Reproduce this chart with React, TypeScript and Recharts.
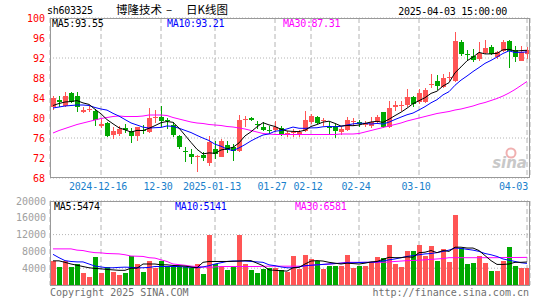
import React from 'react';
import { ComposedChart, Bar, Line, XAxis, YAxis, CartesianGrid } from 'recharts';

const dates = [
  '2024-12-04','2024-12-05','2024-12-06','2024-12-09','2024-12-10','2024-12-11','2024-12-12','2024-12-13','2024-12-16','2024-12-17',
  '2024-12-18','2024-12-19','2024-12-20','2024-12-23','2024-12-24','2024-12-25','2024-12-26','2024-12-27','2024-12-30','2024-12-31',
  '2025-01-02','2025-01-03','2025-01-06','2025-01-07','2025-01-08','2025-01-09','2025-01-10','2025-01-13','2025-01-14','2025-01-15',
  '2025-01-16','2025-01-17','2025-01-20','2025-01-21','2025-01-22','2025-01-23','2025-01-24','2025-01-27','2025-02-05','2025-02-06',
  '2025-02-07','2025-02-10','2025-02-11','2025-02-12','2025-02-13','2025-02-14','2025-02-17','2025-02-18','2025-02-19','2025-02-20',
  '2025-02-21','2025-02-24','2025-02-25','2025-02-26','2025-02-27','2025-02-28','2025-03-03','2025-03-04','2025-03-05','2025-03-06',
  '2025-03-07','2025-03-10','2025-03-11','2025-03-12','2025-03-13','2025-03-14','2025-03-17','2025-03-18','2025-03-19','2025-03-20',
  '2025-03-21','2025-03-24','2025-03-25','2025-03-26','2025-03-27','2025-03-28','2025-03-31','2025-04-01','2025-04-02','2025-04-03',
];

const opens = [
  82.3, 83.7, 82.5, 85.0, 84.5, 81.3, 81.6, 81.4, 78.5, 79.0,
  76.6, 76.9, 78.0, 77.5, 76.5, 77.7, 77.2, 80.0, 80.3, 79.7,
  78.6, 76.5, 73.5, 72.8, 72.2, 72.7, 71.0, 73.8, 72.3, 74.7,
  74.3, 73.5, 79.6, 80.0, 78.9, 78.3, 77.6, 77.6, 78.0, 76.7,
  77.0, 76.9, 77.5, 79.2, 80.3, 79.4, 78.3, 78.5, 77.2, 77.6,
  79.2, 79.2, 78.6, 78.4, 79.2, 81.2, 78.2, 82.3, 82.4, 82.7,
  84.3, 83.2, 83.2, 86.6, 87.4, 86.2, 88.1, 87.5, 95.2, 92.9,
  92.5, 91.8, 93.0, 94.3, 92.2, 93.5, 95.5, 93.6, 91.5, 92.8,
];
const highs = [
  84.5, 84.5, 85.3, 85.2, 85.3, 82.2, 82.5, 81.8, 79.8, 79.2,
  78.2, 78.4, 78.9, 78.0, 78.3, 78.6, 82.0, 81.7, 82.5, 80.0,
  79.2, 76.7, 74.3, 73.8, 72.7, 73.3, 76.5, 75.5, 75.8, 75.5,
  74.8, 80.7, 80.5, 80.2, 79.5, 79.2, 78.5, 79.4, 78.5, 77.4,
  77.8, 77.6, 81.5, 80.8, 80.4, 80.0, 79.2, 78.9, 78.2, 80.3,
  80.0, 79.6, 79.4, 80.2, 80.6, 81.3, 83.5, 83.4, 83.4, 85.8,
  84.5, 85.8, 86.0, 88.8, 88.7, 88.8, 89.2, 97.2, 95.6, 93.6,
  93.8, 95.2, 95.6, 94.6, 93.5, 95.6, 95.7, 94.5, 94.5, 94.3,
];
const lows = [
  81.6, 82.2, 82.3, 83.0, 81.2, 81.0, 81.2, 78.4, 78.0, 76.3,
  75.8, 76.5, 77.0, 75.0, 75.5, 76.8, 77.0, 79.0, 78.2, 77.8,
  76.3, 73.9, 71.2, 70.8, 69.2, 71.4, 70.5, 71.8, 72.2, 73.0,
  71.5, 73.3, 78.2, 79.4, 77.8, 77.5, 76.8, 77.3, 76.5, 76.2,
  76.2, 76.2, 77.2, 78.8, 78.8, 78.5, 76.8, 76.0, 76.7, 77.5,
  78.5, 78.2, 78.2, 78.0, 78.8, 78.0, 78.0, 81.5, 81.5, 82.3,
  82.3, 82.8, 83.0, 86.0, 85.7, 86.0, 87.5, 87.3, 92.5, 91.6,
  91.2, 91.5, 92.8, 92.6, 91.8, 93.3, 90.0, 91.2, 91.4, 91.8,
];
const closes = [
  84.0, 83.3, 84.5, 83.3, 82.3, 81.7, 81.8, 79.6, 78.8, 76.5,
  77.5, 77.8, 77.6, 76.5, 78.2, 77.4, 80.0, 80.3, 79.4, 79.4,
  76.6, 74.2, 73.2, 72.2, 72.5, 72.0, 75.2, 72.8, 75.5, 73.7,
  73.5, 79.6, 79.8, 79.6, 78.7, 77.6, 77.4, 78.2, 76.8, 77.0,
  77.2, 77.2, 79.6, 80.5, 79.0, 79.6, 78.1, 77.4, 77.8, 79.6,
  79.4, 78.8, 79.0, 79.2, 80.3, 78.3, 82.0, 82.6, 82.6, 84.3,
  82.8, 85.0, 85.6, 86.9, 86.5, 88.0, 88.3, 95.5, 92.8, 92.6,
  91.7, 93.0, 94.0, 92.8, 93.2, 95.2, 93.5, 92.2, 93.3, 93.6,
];
const ma5 = [
  82.5, 82.9, 83.2, 83.3, 83.48, 83.02, 82.72, 81.74, 80.84, 79.68,
  78.84, 78.04, 77.64, 77.18, 77.52, 77.5, 77.94, 78.48, 79.06, 79.3,
  79.14, 77.98, 76.56, 75.12, 73.74, 72.82, 73.02, 72.94, 73.6, 73.84,
  74.14, 75.02, 76.42, 77.24, 78.24, 79.06, 78.62, 78.3, 77.74, 77.4,
  77.32, 77.28, 77.56, 78.3, 78.7, 79.18, 79.36, 78.92, 78.38, 78.5,
  78.46, 78.6, 78.92, 79.2, 79.34, 79.12, 79.76, 80.48, 81.16, 81.96,
  82.86, 83.46, 84.06, 84.92, 85.36, 86.4, 87.06, 89.04, 90.22, 91.44,
  92.18, 93.12, 92.82, 92.82, 92.94, 93.64, 93.74, 93.38, 93.48, 93.55,
];
const ma10 = [
  82.0, 82.2, 82.4, 82.5, 82.6, 82.6, 82.5, 82.1, 81.8, 81.58,
  80.93, 80.38, 79.69, 79.01, 78.6, 78.17, 77.99, 78.06, 78.12, 78.41,
  78.32, 77.96, 77.52, 77.09, 76.52, 75.98, 75.5, 74.75, 74.36, 73.79,
  73.48, 74.02, 74.68, 75.42, 76.04, 76.6, 76.82, 77.36, 77.49, 77.82,
  78.19, 77.95, 77.93, 78.02, 78.05, 78.25, 78.32, 78.24, 78.34, 78.6,
  78.82, 78.98, 78.92, 78.79, 78.92, 78.79, 79.18, 79.7, 80.18, 80.65,
  80.99, 81.61, 82.27, 83.04, 83.66, 84.63, 85.26, 86.55, 87.57, 88.4,
  89.29, 90.09, 90.93, 91.52, 92.19, 92.91, 93.43, 93.1, 93.15, 93.21,
];
const ma30 = [
  77.0, 77.5, 77.9, 78.3, 78.7, 79.0, 79.3, 79.6, 79.9, 80.1,
  80.3, 80.4, 80.3, 80.3, 80.3, 80.4, 80.6, 80.6, 80.6, 80.5,
  80.1, 79.8, 79.5, 79.2, 79.0, 78.9, 78.7, 78.6, 78.5, 78.3,
  78.2, 78.0, 77.8, 77.5, 77.2, 76.9, 76.8, 76.7, 76.7, 76.7,
  76.7, 76.7, 76.7, 76.7, 76.7, 76.7, 76.7, 76.7, 76.8, 76.8,
  76.8, 76.9, 77.2, 77.5, 77.8, 78.1, 78.4, 78.7, 79.0, 79.4,
  79.7, 80.0, 80.3, 80.6, 80.9, 81.1, 81.3, 81.6, 81.8, 82.1,
  82.4, 82.8, 83.1, 83.5, 83.9, 84.4, 85.0, 85.7, 86.5, 87.31,
];
const volumes = [
  5830, 4400, 5680, 4400, 5000, 2740, 2020, 6550, 2740, 4400,
  3210, 2500, 2740, 6790, 5100, 3210, 5830, 4000, 5600, 4400,
  4400, 4400, 4400, 4000, 4900, 2600, 11790, 4900, 4400, 3500,
  4400, 11800, 4900, 3500, 2740, 3700, 4000, 4000, 3500, 3210,
  7000, 3900, 7260, 6300, 5800, 3900, 4600, 4600, 4600, 7260,
  4100, 4600, 4600, 5360, 6550, 6500, 9640, 4900, 4400, 8210,
  8210, 9640, 7020, 9400, 5600, 8690, 5360, 16550, 8850, 4900,
  5190, 7020, 5190, 3290, 3450, 5830, 9160, 4640, 3930, 3930,
];
const vma5 = [
  5750, 5750, 5400, 5000, 4700, 4400, 4100, 3950, 3850, 3700,
  3600, 3500, 3500, 4000, 4000, 5000, 5000, 5000, 4800, 4800,
  4650, 4600, 4500, 4300, 4100, 5400, 5600, 5600, 5600, 5600,
  5650, 5700, 5800, 5800, 5200, 4600, 3600, 3500, 3400, 3300,
  4100, 4200, 5000, 5700, 5800, 5700, 5400, 5200, 5000, 5200,
  5100, 5000, 5200, 5500, 5600, 6100, 6600, 6500, 6500, 6700,
  6600, 7700, 7800, 8200, 7700, 8200, 8000, 9000, 9000, 8800,
  8800, 8200, 7000, 5800, 4900, 4900, 5000, 5400, 5400, 5474,
];
const vma10 = [
  7300, 6500, 5800, 5600, 5500, 5500, 5000, 4500, 4300, 4100,
  4100, 4200, 4250, 4200, 4100, 4100, 4200, 4400, 4400, 4400,
  4400, 4400, 4300, 4200, 4100, 4300, 4600, 5000, 5300, 5600,
  5700, 5700, 5700, 5600, 5500, 5400, 4800, 4600, 4300, 4100,
  4100, 4300, 4600, 4700, 4800, 4900, 5000, 5100, 5200, 5300,
  5300, 5350, 5400, 5400, 5500, 5700, 6000, 6200, 6500, 6800,
  7000, 7200, 7400, 7500, 7700, 8000, 8300, 8800, 8700, 8500,
  8300, 8000, 7500, 7200, 6800, 6200, 5900, 5600, 5300, 5141,
];
const vma30 = [
  8600, 8600, 8600, 8600, 8300, 8200, 7900, 7700, 7650, 7500,
  7450, 7400, 7200, 6900, 6850, 6800, 6500, 6400, 6000, 5600,
  5000, 4850, 4700, 4500, 4400, 4300, 4200, 4300, 4400, 4400,
  4400, 4400, 4400, 4400, 4400, 4450, 4480, 4480, 4480, 4480,
  4480, 4480, 4480, 4700, 4800, 4900, 5000, 5100, 5200, 5400,
  5400, 5400, 5400, 5400, 5400, 5400, 5500, 5600, 5700, 5800,
  5850, 5900, 6000, 6100, 6200, 6300, 6500, 6500, 6500, 6500,
  6500, 6500, 6500, 6500, 6500, 6550, 6550, 6550, 6560, 6581,
];

const tickDates = ['2024-12-16','2024-12-30','2025-01-13','2025-01-27','2025-02-12','2025-02-24','2025-03-10','2025-04-03'];
const tickLabels = ['2024-12-16','12-30','2025-01-13','01-27','02-12','02-24','03-10','04-03'];
const priceTicks = [68, 72, 76, 80, 84, 88, 92, 96, 100];
const volTicks = [0, 4000, 8000, 12000, 16000, 20000];

const RED = '#ff5555';
const GREEN = '#00a800';
const MONO = '"DejaVu Sans Mono", "Liberation Mono", monospace';
const CJK = '"Noto Sans CJK SC", sans-serif';

const data = dates.map((d, i) => ({
  d,
  o: opens[i], h: highs[i], l: lows[i], c: closes[i],
  range: [lows[i], highs[i]],
  v: volumes[i],
  ma5: ma5[i], ma10: ma10[i], ma30: ma30[i],
  vma5: vma5[i], vma10: vma10[i], vma30: vma30[i],
}));

const Candle = (props: any) => {
  const { x, y, width, height, payload } = props;
  if (x == null || !payload) return null;
  const { o, h, l, c } = payload;
  const top = Math.min(y, y + height);
  const hgt = Math.abs(height);
  const ppu = h - l > 0 ? hgt / (h - l) : 0;
  const py = (v: number) => top + (h - v) * ppu;
  const color = c >= o ? RED : GREEN;
  const bx = Math.floor(x + width / 2 - 2.5);
  const bt = py(Math.max(o, c));
  const bb = py(Math.min(o, c));
  return (
    <g shapeRendering="crispEdges">
      <rect x={bx + 2} y={top} width={1} height={Math.max(1, hgt)} fill={color} />
      <rect x={bx} y={bt} width={5} height={Math.max(1, bb - bt)} fill={color} />
    </g>
  );
};

const VolBar = (props: any) => {
  const { x, y, width, height, payload } = props;
  if (x == null || !payload) return null;
  const color = payload.c >= payload.o ? RED : GREEN;
  const bx = Math.floor(x + width / 2 - 2.5);
  return <rect x={bx} y={y} width={5} height={Math.max(0, height)} fill={color} shapeRendering="crispEdges" />;
};

const DateTick = (props: any) => {
  const { x, y, payload } = props;
  const idx = tickDates.indexOf(payload.value);
  const label = idx >= 0 ? tickLabels[idx] : '';
  const last = idx === tickDates.length - 1;
  return (
    <text x={last ? x + 1 : x - 3} y={y} dy={8} textAnchor={last ? 'end' : 'middle'} fill="#1a7fcc"
      fontFamily={MONO} fontSize={10} letterSpacing={-0.2}>{label}</text>
  );
};

export default function App() {
  return (
    <div style={{ position: 'absolute', left: 0, top: 0, width: 545, height: 300, background: '#fff', overflow: 'hidden' }}>
      <div style={{ position: 'absolute', left: 0, top: 0 }}>
        <ComposedChart width={545} height={200} data={data} margin={{ top: 18, right: 15, bottom: 0, left: 0 }} barCategoryGap={0}>
          <CartesianGrid horizontal={true} vertical={false} stroke="#b4b4b4" strokeDasharray="1 2" />
          <CartesianGrid horizontal={false} vertical={true} stroke="#b4b4b4" strokeDasharray="5 3" />
          <XAxis dataKey="d" ticks={tickDates} interval={0} tick={<DateTick />} tickLine={false} axisLine={false} tickSize={0} tickMargin={4} height={22} />
          <YAxis domain={[68, 100]} ticks={priceTicks} allowDataOverflow width={50} tickLine={false} axisLine={false} tickSize={0} tickMargin={5}
            tick={{ fill: '#ff0000', fontFamily: MONO, fontSize: 10 }} />
          <Bar dataKey="range" barSize={5} shape={<Candle />} isAnimationActive={false} />
          <Line type="linear" dataKey="ma30" stroke="#ff00ff" strokeWidth={1} dot={false} isAnimationActive={false} />
          <Line type="linear" dataKey="ma10" stroke="#0000ff" strokeWidth={1} dot={false} isAnimationActive={false} />
          <Line type="linear" dataKey="ma5" stroke="#000000" strokeWidth={1} dot={false} isAnimationActive={false} />
        </ComposedChart>
      </div>
      <div style={{ position: 'absolute', left: 0, top: 190 }}>
        <ComposedChart width={545} height={110} data={data} margin={{ top: 11, right: 15, bottom: 15, left: 0 }} barCategoryGap={0}>
          <CartesianGrid horizontal={true} vertical={false} stroke="#b4b4b4" strokeDasharray="1 2" />
          <CartesianGrid horizontal={false} vertical={true} stroke="#b4b4b4" strokeDasharray="5 3" />
          <XAxis dataKey="d" ticks={tickDates} interval={0} hide />
          <YAxis domain={[0, 20000]} ticks={volTicks} allowDataOverflow width={50} tickLine={false} axisLine={false} tickSize={0} tickMargin={4}
            tick={{ fill: '#a0a0a0', fontFamily: MONO, fontSize: 10 }} tickFormatter={(v: number) => (v === 0 ? '' : String(v))} />
          <Bar dataKey="v" barSize={5} shape={<VolBar />} isAnimationActive={false} />
          <Line type="linear" dataKey="vma30" stroke="#ff00ff" strokeWidth={1} dot={false} isAnimationActive={false} />
          <Line type="linear" dataKey="vma10" stroke="#0000ff" strokeWidth={1} dot={false} isAnimationActive={false} />
          <Line type="linear" dataKey="vma5" stroke="#000000" strokeWidth={1} dot={false} isAnimationActive={false} />
        </ComposedChart>
      </div>
      <svg width={545} height={300} style={{ position: 'absolute', left: 0, top: 0, pointerEvents: 'none' }}>
        <rect x={50.5} y={18.5} width={479} height={159} fill="none" stroke="#999" strokeWidth={1} />
        <rect x={50.5} y={201.5} width={479} height={84} fill="none" stroke="#999" strokeWidth={1} />
        <text x={47} y={14} fontFamily={MONO} fontSize={10} letterSpacing={-0.3} fill="#000">sh603325</text>
        <text x={116} y={14} fontFamily={CJK} fontSize={11.5} fill="#000">博隆技术</text>
        <text x={166} y={14} fontFamily={CJK} fontSize={11.5} fill="#000">–</text>
        <text x={186} y={14} fontFamily={CJK} fontSize={11.5} fill="#000">日K线图</text>
        <text x={507} y={15} textAnchor="end" fontFamily={MONO} fontSize={10} letterSpacing={-0.3} fill="#000">2025-04-03 15:00:00</text>
        <text x={52} y={27} fontFamily={MONO} fontSize={10} letterSpacing={-0.3} fill="#000">MA5:93.55</text>
        <text x={167} y={27} fontFamily={MONO} fontSize={10} letterSpacing={-0.3} fill="#0000ff">MA10:93.21</text>
        <text x={283} y={27} fontFamily={MONO} fontSize={10} letterSpacing={-0.3} fill="#ff00ff">MA30:87.31</text>
        <text x={54} y={210} fontFamily={MONO} fontSize={10} letterSpacing={-0.3} fill="#000">MA5:5474</text>
        <text x={175} y={210} fontFamily={MONO} fontSize={10} letterSpacing={-0.3} fill="#0000ff">MA10:5141</text>
        <text x={295} y={210} fontFamily={MONO} fontSize={10} letterSpacing={-0.3} fill="#ff00ff">MA30:6581</text>
        <text x={50} y={296} fontFamily={MONO} fontSize={10} fill="#707070">Copyright 2025 SINA.COM</text>
        <text x={529} y={296} textAnchor="end" fontFamily={MONO} fontSize={10} fill="#707070">http://finance.sina.com.cn</text>
        <text x={527} y={168} textAnchor="end" fontFamily='"DejaVu Sans", sans-serif' fontStyle="italic" fontWeight="bold" fontSize={15} fill="#c8c8c8">sina</text>
        <circle cx={511} cy={153} r={4.5} fill="none" stroke="#f0b0b0" strokeWidth={2} />
      </svg>
    </div>
  );
}
